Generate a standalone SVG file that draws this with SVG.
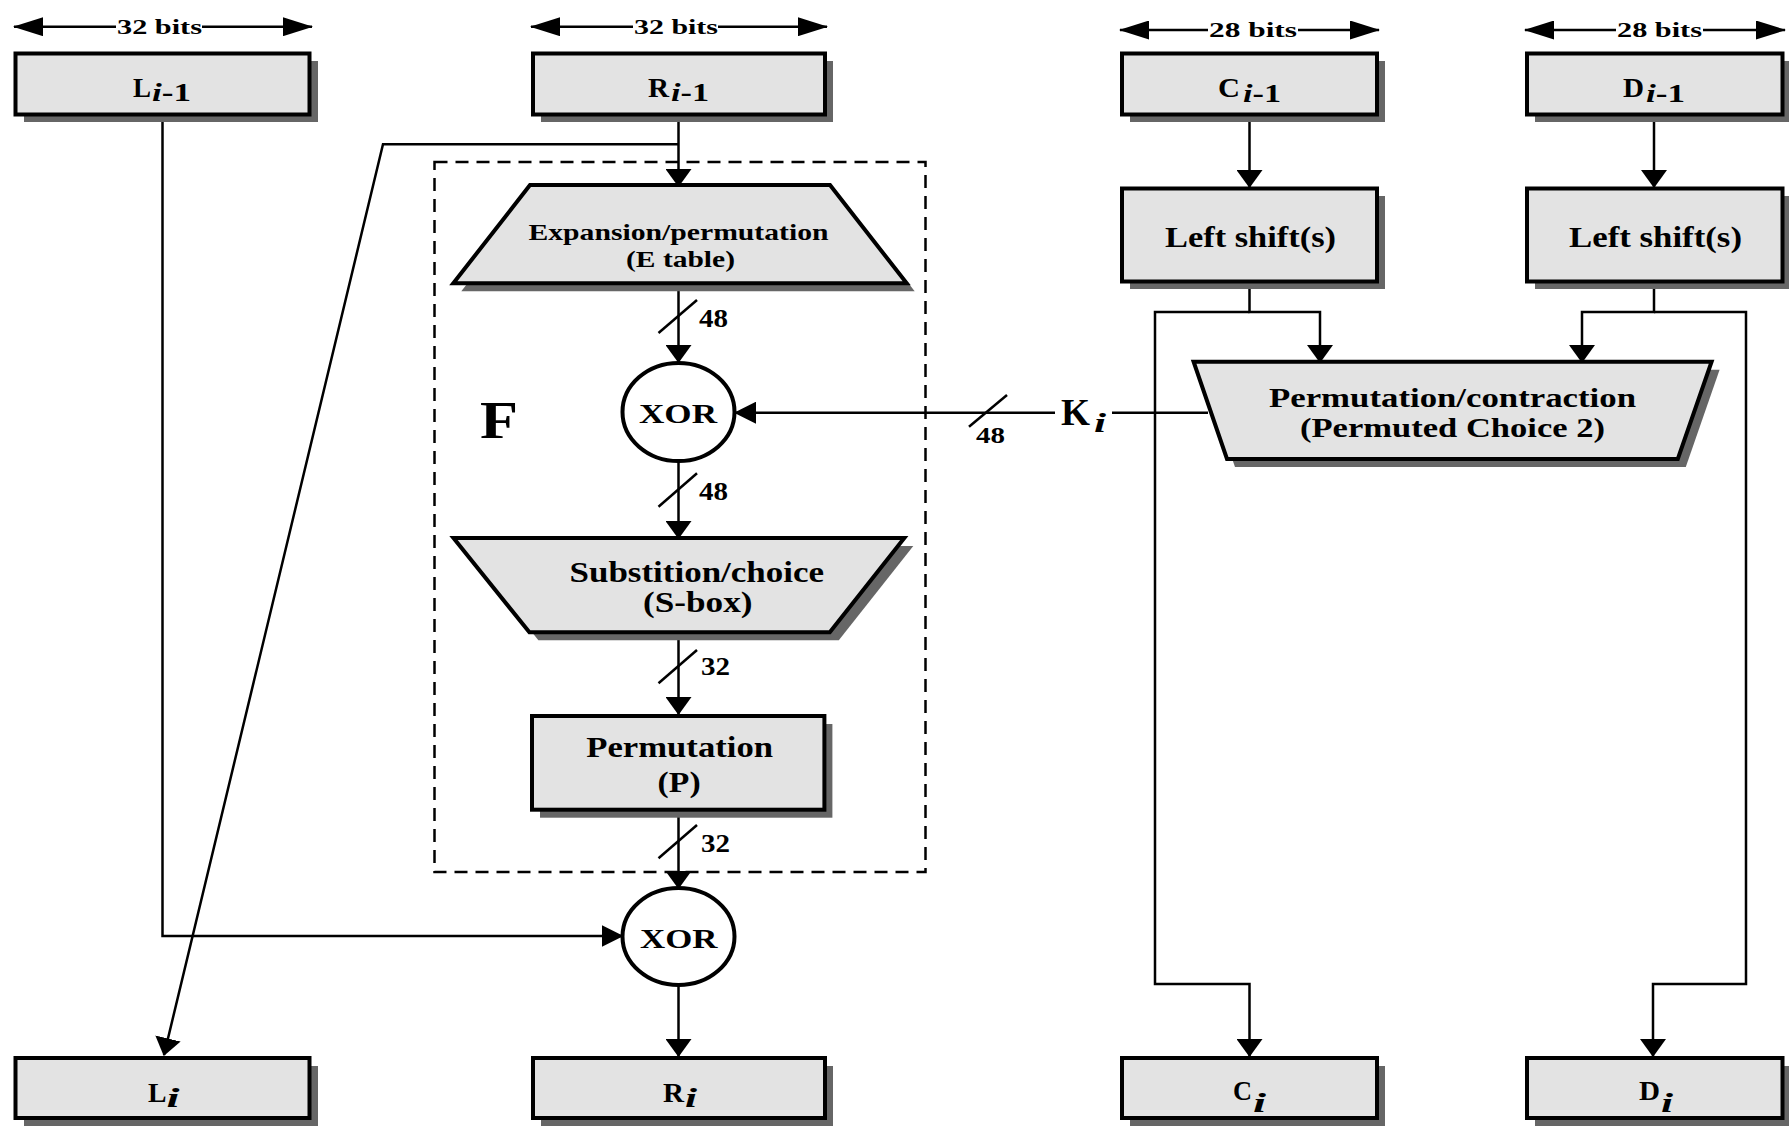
<svg xmlns="http://www.w3.org/2000/svg" width="1789" height="1126" viewBox="0 0 1789 1126">
<defs>
<style>
.box{fill:#e3e3e3;stroke:#000;stroke-width:4;stroke-linejoin:miter}
.sh{fill:#666}
.ln{fill:none;stroke:#000;stroke-width:2.5}
.dash{fill:none;stroke:#000;stroke-width:2.5;stroke-dasharray:13 8}
.t{font-family:'Liberation Serif','Times New Roman',serif;font-weight:bold;fill:#000}
.it{font-style:italic}
</style>
<marker id="av" markerUnits="userSpaceOnUse" viewBox="0 0 18 26" refX="17" refY="13" markerWidth="18" markerHeight="26" orient="auto"><path d="M0,0 L18,13 L0,26 z" fill="#000"/></marker>
<marker id="ah" markerUnits="userSpaceOnUse" viewBox="0 0 22 22" refX="21" refY="11" markerWidth="22" markerHeight="22" orient="auto"><path d="M0,0 L22,11 L0,22 z" fill="#000"/></marker>
<marker id="ab" markerUnits="userSpaceOnUse" viewBox="0 0 30 19" refX="29" refY="9.5" markerWidth="30" markerHeight="19" orient="auto"><path d="M0,0 L30,9.5 L0,19 z" fill="#000"/></marker>
</defs>
<rect width="1789" height="1126" fill="#fff"/>

<g id="widths">
<path class="ln" d="M116,26.7 H14" marker-end="url(#ab)"/>
<path class="ln" d="M202,26.7 H312" marker-end="url(#ab)"/>
<text class="t" x="117" y="33.5" font-size="22" textLength="85" lengthAdjust="spacingAndGlyphs">32 bits</text>
<path class="ln" d="M633,26.7 H531" marker-end="url(#ab)"/>
<path class="ln" d="M718,26.7 H827" marker-end="url(#ab)"/>
<text class="t" x="634" y="33.5" font-size="22" textLength="84" lengthAdjust="spacingAndGlyphs">32 bits</text>
<path class="ln" d="M1208,30 H1120" marker-end="url(#ab)"/>
<path class="ln" d="M1298,30 H1379" marker-end="url(#ab)"/>
<text class="t" x="1209" y="37" font-size="22" textLength="88" lengthAdjust="spacingAndGlyphs">28 bits</text>
<path class="ln" d="M1616,30 H1525" marker-end="url(#ab)"/>
<path class="ln" d="M1703,30 H1785" marker-end="url(#ab)"/>
<text class="t" x="1617" y="37" font-size="22" textLength="85" lengthAdjust="spacingAndGlyphs">28 bits</text>
</g>

<rect id="F-frame" class="dash" x="434.5" y="162" width="491" height="710"/>
<text id="F-label" class="t" x="480" y="438" font-size="52" textLength="38" lengthAdjust="spacingAndGlyphs">F</text>

<g id="connectors">
<path class="ln" d="M162.5,116 V936 H622.5" marker-end="url(#ah)"/>
<path class="ln" d="M678.5,116 V186" marker-end="url(#av)"/>
<path class="ln" d="M678.5,144.3 H383 L164,1055" marker-end="url(#av)"/>
<path class="ln" d="M678.5,284 V362" marker-end="url(#av)"/>
<path class="ln" d="M658.5,333 L697,300"/>
<text class="t" x="699" y="327" font-size="25" textLength="29" lengthAdjust="spacingAndGlyphs">48</text>
<path class="ln" d="M678.5,461 V538" marker-end="url(#av)"/>
<path class="ln" d="M658.5,506.7 L697,473.3"/>
<text class="t" x="699" y="500" font-size="25" textLength="29" lengthAdjust="spacingAndGlyphs">48</text>
<path class="ln" d="M678.5,633 V714" marker-end="url(#av)"/>
<path class="ln" d="M658.5,683.3 L697,650"/>
<text class="t" x="701" y="675" font-size="25" textLength="29" lengthAdjust="spacingAndGlyphs">32</text>
<path class="ln" d="M678.5,812 V888" marker-end="url(#av)"/>
<path class="ln" d="M658.5,858.3 L697,825"/>
<text class="t" x="701" y="851.5" font-size="25" textLength="29" lengthAdjust="spacingAndGlyphs">32</text>
<path class="ln" d="M678.5,985 V1056" marker-end="url(#av)"/>
<path class="ln" d="M1208,412.7 H1112"/>
<path class="ln" d="M1055,412.7 H735" marker-end="url(#ah)"/>
<path class="ln" d="M969,426.7 L1007,395"/>
<text class="t" x="976" y="443" font-size="23" textLength="29" lengthAdjust="spacingAndGlyphs">48</text>
<path class="ln" d="M1249.5,116 V187" marker-end="url(#av)"/>
<path class="ln" d="M1654,116 V187" marker-end="url(#av)"/>
<path class="ln" d="M1249.5,283 V312 H1320 V362" marker-end="url(#av)"/>
<path class="ln" d="M1249.5,312 H1155 V984 H1249.5 V1056" marker-end="url(#av)"/>
<path class="ln" d="M1654,283 V312 H1582 V362" marker-end="url(#av)"/>
<path class="ln" d="M1654,312 H1746 V984 H1653 V1056" marker-end="url(#av)"/>
</g>

<g id="Ki">
<text class="t" x="1061" y="425" font-size="37" textLength="29" lengthAdjust="spacingAndGlyphs">K</text>
<text class="t it" x="1094" y="432" font-size="28" textLength="12" lengthAdjust="spacingAndGlyphs">i</text>
</g>

<g id="L-prev">
<rect class="sh" x="24" y="61" width="294" height="61"/>
<rect class="box" x="15.5" y="53.5" width="294" height="61"/>
<text class="t" x="133" y="97" font-size="27" textLength="18" lengthAdjust="spacingAndGlyphs">L</text>
<text class="t" x="152" y="100.5" font-size="25" textLength="39" lengthAdjust="spacingAndGlyphs"><tspan class="it">i</tspan>-1</text>
</g>
<g id="R-prev">
<rect class="sh" x="541" y="61" width="292" height="61"/>
<rect class="box" x="533" y="53.5" width="292" height="61"/>
<text class="t" x="648" y="97" font-size="27" textLength="21" lengthAdjust="spacingAndGlyphs">R</text>
<text class="t" x="671" y="100.5" font-size="25" textLength="38" lengthAdjust="spacingAndGlyphs"><tspan class="it">i</tspan>-1</text>
</g>
<g id="C-prev">
<rect class="sh" x="1130" y="61" width="255" height="61"/>
<rect class="box" x="1122" y="53.5" width="255" height="61"/>
<text class="t" x="1218" y="97" font-size="27" textLength="22" lengthAdjust="spacingAndGlyphs">C</text>
<text class="t" x="1243" y="101.5" font-size="25" textLength="38" lengthAdjust="spacingAndGlyphs"><tspan class="it">i</tspan>-1</text>
</g>
<g id="D-prev">
<rect class="sh" x="1535" y="61" width="255.5" height="61"/>
<rect class="box" x="1527" y="53.5" width="255.5" height="61"/>
<text class="t" x="1623" y="97" font-size="27" textLength="21" lengthAdjust="spacingAndGlyphs">D</text>
<text class="t" x="1646" y="101.5" font-size="25" textLength="39" lengthAdjust="spacingAndGlyphs"><tspan class="it">i</tspan>-1</text>
</g>

<g id="shift-C">
<rect class="sh" x="1130" y="196" width="255" height="93"/>
<rect class="box" x="1122" y="188.5" width="255" height="93"/>
<text class="t" x="1165" y="246.5" font-size="29" textLength="171" lengthAdjust="spacingAndGlyphs">Left shift(s)</text>
</g>
<g id="shift-D">
<rect class="sh" x="1535" y="196" width="255.5" height="93"/>
<rect class="box" x="1527" y="188.5" width="255.5" height="93"/>
<text class="t" x="1569" y="246.5" font-size="29" textLength="173" lengthAdjust="spacingAndGlyphs">Left shift(s)</text>
</g>

<g id="E-table">
<polygon class="sh" points="538,193 838,193 914.7,291.3 461.3,291.3"/>
<polygon class="box" points="530,185 830,185 906.7,283.3 453.3,283.3"/>
<text class="t" x="528.5" y="240" font-size="24" textLength="300" lengthAdjust="spacingAndGlyphs">Expansion/permutation</text>
<text class="t" x="626" y="266.5" font-size="24" textLength="109" lengthAdjust="spacingAndGlyphs">(E table)</text>
</g>

<g id="XOR1">
<ellipse class="box" cx="678.5" cy="412" rx="56" ry="49" style="fill:#fff"/>
<text class="t" x="639" y="422.5" font-size="28" textLength="78" lengthAdjust="spacingAndGlyphs">XOR</text>
</g>

<g id="S-box">
<polygon class="sh" points="462.5,546 913.3,546 838.8,640.3 538.4,640.3"/>
<polygon class="box" points="453.5,538 904.3,538 829.8,632.3 529.4,632.3"/>
<text class="t" x="569.5" y="581.5" font-size="29" textLength="254.5" lengthAdjust="spacingAndGlyphs">Substition/choice</text>
<text class="t" x="643" y="611.5" font-size="29" textLength="109.5" lengthAdjust="spacingAndGlyphs">(S-box)</text>
</g>

<g id="P-box">
<rect class="sh" x="540" y="724" width="292.4" height="93.7"/>
<rect class="box" x="532" y="716" width="292.4" height="93.7"/>
<text class="t" x="586.3" y="756.5" font-size="29" textLength="186.7" lengthAdjust="spacingAndGlyphs">Permutation</text>
<text class="t" x="657.6" y="791.5" font-size="29" textLength="43" lengthAdjust="spacingAndGlyphs">(P)</text>
</g>

<g id="XOR2">
<ellipse class="box" cx="678.5" cy="936.5" rx="56" ry="48.5" style="fill:#fff"/>
<text class="t" x="640" y="947.5" font-size="28" textLength="77.5" lengthAdjust="spacingAndGlyphs">XOR</text>
</g>

<g id="PC2">
<polygon class="sh" points="1201.6,369.7 1719.6,369.7 1685.8,467 1235,467"/>
<polygon class="box" points="1193.6,361.7 1711.6,361.7 1677.8,459 1227,459"/>
<text class="t" x="1269" y="406.5" font-size="28" textLength="367" lengthAdjust="spacingAndGlyphs">Permutation/contraction</text>
<text class="t" x="1300" y="437" font-size="28" textLength="305" lengthAdjust="spacingAndGlyphs">(Permuted Choice 2)</text>
</g>

<g id="L-new">
<rect class="sh" x="24" y="1066" width="294" height="60"/>
<rect class="box" x="15.5" y="1058" width="294" height="60"/>
<text class="t" x="148" y="1101.5" font-size="28" textLength="18.5" lengthAdjust="spacingAndGlyphs">L</text>
<text class="t it" x="166.5" y="1106.5" font-size="27" textLength="13" lengthAdjust="spacingAndGlyphs">i</text>
</g>
<g id="R-new">
<rect class="sh" x="541" y="1066" width="292" height="60"/>
<rect class="box" x="533" y="1058" width="292" height="60"/>
<text class="t" x="663" y="1101.5" font-size="28" textLength="21" lengthAdjust="spacingAndGlyphs">R</text>
<text class="t it" x="685" y="1106.5" font-size="27" textLength="12" lengthAdjust="spacingAndGlyphs">i</text>
</g>
<g id="C-new">
<rect class="sh" x="1130" y="1066" width="255" height="60"/>
<rect class="box" x="1122" y="1058" width="255" height="60"/>
<text class="t" x="1233" y="1100" font-size="28" textLength="19" lengthAdjust="spacingAndGlyphs">C</text>
<text class="t it" x="1253" y="1111.5" font-size="27" textLength="13" lengthAdjust="spacingAndGlyphs">i</text>
</g>
<g id="D-new">
<rect class="sh" x="1535" y="1066" width="255.5" height="60"/>
<rect class="box" x="1527" y="1058" width="255.5" height="60"/>
<text class="t" x="1639" y="1100" font-size="28" textLength="21" lengthAdjust="spacingAndGlyphs">D</text>
<text class="t it" x="1661" y="1111.5" font-size="27" textLength="12" lengthAdjust="spacingAndGlyphs">i</text>
</g>
</svg>
